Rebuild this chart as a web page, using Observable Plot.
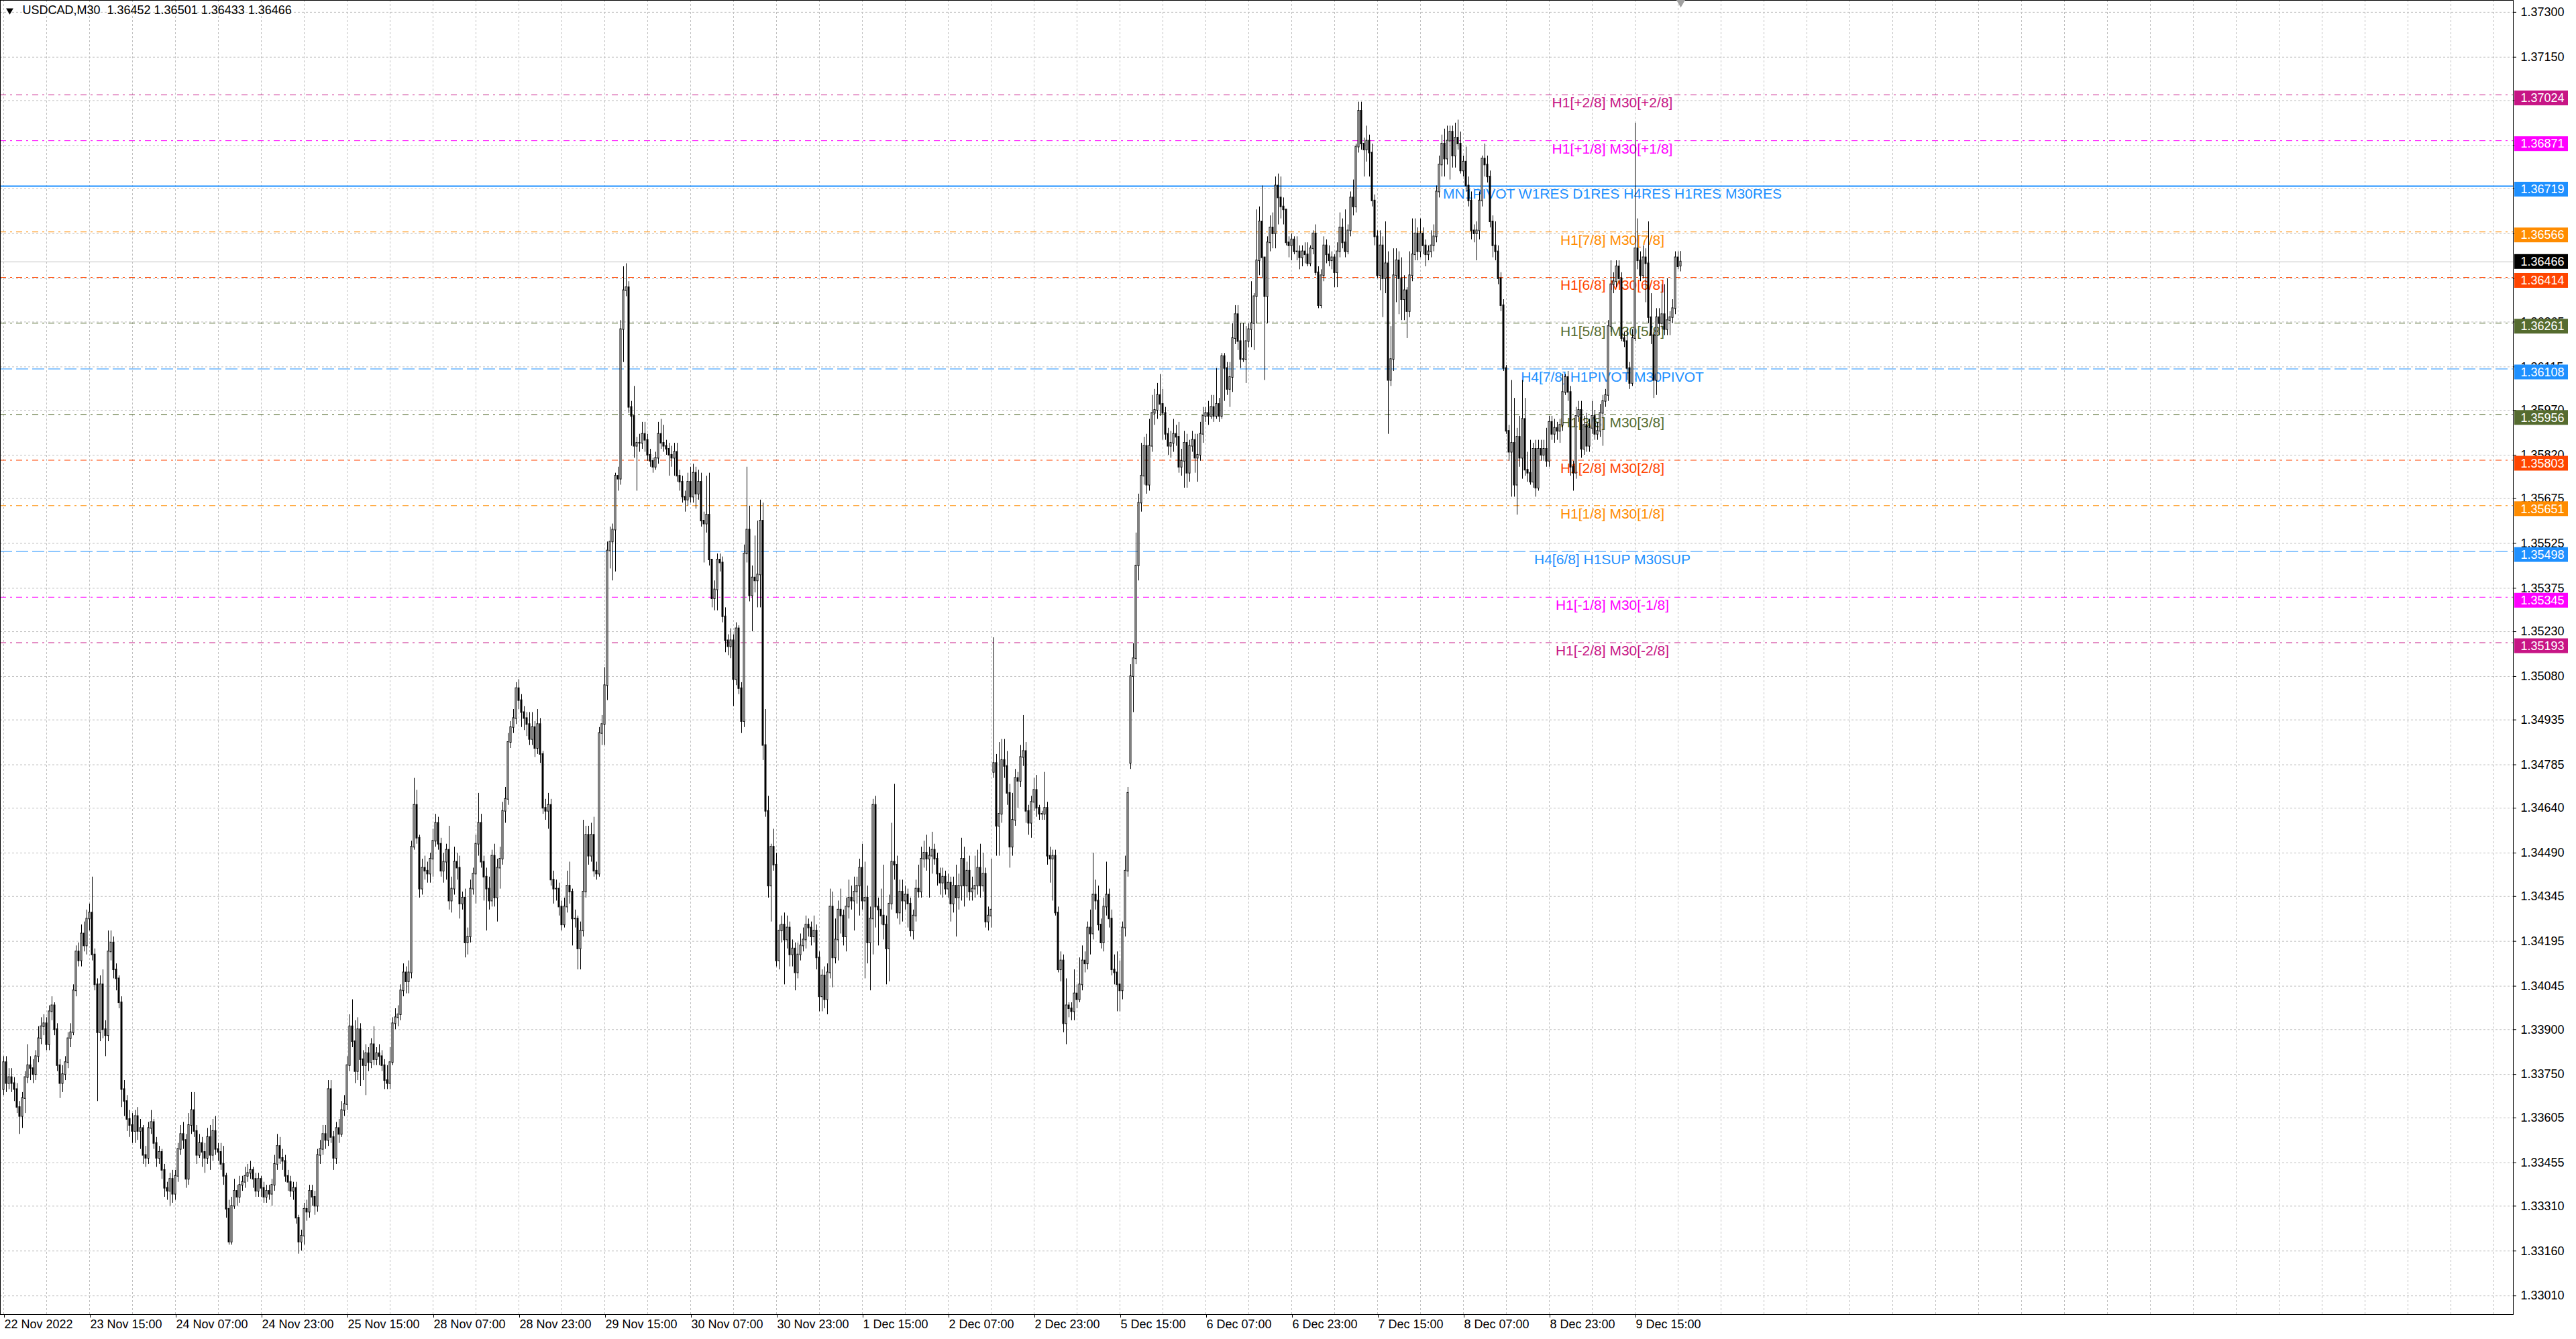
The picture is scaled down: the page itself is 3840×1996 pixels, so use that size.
<!DOCTYPE html>
<html>
<head>
<meta charset="utf-8">
<script src="https://cdn.jsdelivr.net/npm/d3@7"></script>
<script src="https://cdn.jsdelivr.net/npm/@observablehq/plot@0.6"></script>
<style>
html, body { margin: 0; padding: 0; background: #ffffff; overflow: hidden; }
#chart svg { display: block; }
</style>
</head>
<body>
<div id="chart"></div>
<script>
// ---------------- data (USDCAD, M30) ----------------
const symbol = "USDCAD,M30";

const open = [
1.3370,1.3379,1.3372,1.3374,1.3372,1.3370,1.3364,1.3361,1.3367,1.3374,
1.3378,1.3377,1.3375,1.3381,1.3387,1.3391,1.3392,1.3385,1.3396,1.3398,
1.3390,1.3378,1.3372,1.3375,1.3379,1.3387,1.3389,1.3403,1.3416,1.3413,
1.3422,1.3418,1.3427,1.3429,1.3415,1.3405,1.3389,1.3405,1.3390,1.3388,
1.3416,1.3419,1.3410,1.3407,1.3399,1.3370,1.3366,1.3360,1.3358,1.3356,
1.3361,1.3356,1.3357,1.3348,1.3347,1.3357,1.3359,1.3352,1.3347,1.3349,
1.3343,1.3337,1.3336,1.3340,1.3335,1.3341,1.3350,1.3355,1.3353,1.3340,
1.3358,1.3363,1.3356,1.3348,1.3352,1.3349,1.3347,1.3354,1.3348,1.3356,
1.3350,1.3349,1.3345,1.3341,1.3330,1.3319,1.3331,1.3336,1.3334,1.3338,
1.3339,1.3341,1.3342,1.3343,1.3340,1.3336,1.3340,1.3337,1.3334,1.3336,
1.3335,1.3338,1.3345,1.3351,1.3347,1.3346,1.3341,1.3339,1.3336,1.3337,
1.3327,1.3319,1.3321,1.3330,1.3329,1.3336,1.3334,1.3331,1.3348,1.3350,
1.3355,1.3353,1.3370,1.3354,1.3347,1.3357,1.3355,1.3363,1.3365,1.3378,
1.3391,1.3386,1.3376,1.3390,1.3380,1.3378,1.3382,1.3379,1.3385,1.3380,
1.3382,1.3381,1.3378,1.3373,1.3372,1.3379,1.3392,1.3394,1.3395,1.3403,
1.3409,1.3406,1.3409,1.3451,1.3465,1.3454,1.3437,1.3444,1.3443,1.3442,
1.3447,1.3453,1.3459,1.3452,1.3443,1.3446,1.3450,1.3433,1.3437,1.3446,
1.3444,1.3432,1.3434,1.3419,1.3421,1.3437,1.3442,1.3452,1.3459,1.3446,
1.3441,1.3437,1.3433,1.3448,1.3434,1.3444,1.3447,1.3463,1.3467,1.3486,
1.3491,1.3494,1.3504,1.3500,1.3496,1.3494,1.3492,1.3487,1.3491,1.3484,
1.3492,1.3482,1.3464,1.3463,1.3465,1.3440,1.3437,1.3437,1.3431,1.3425,
1.3431,1.3438,1.3436,1.3427,1.3427,1.3417,1.3423,1.3436,1.3455,1.3448,
1.3455,1.3443,1.3442,1.3489,1.3492,1.3505,1.3550,1.3553,1.3557,1.3575,
1.3574,1.3624,1.3637,1.3638,1.3598,1.3595,1.3585,1.3586,1.3586,1.3589,
1.3587,1.3582,1.3580,1.3578,1.3581,1.3589,1.3586,1.3585,1.3584,1.3582,
1.3581,1.3583,1.3575,1.3573,1.3568,1.3567,1.3573,1.3568,1.3576,1.3569,
1.3573,1.3560,1.3559,1.3562,1.3547,1.3534,1.3537,1.3547,1.3546,1.3528,
1.3520,1.3518,1.3520,1.3507,1.3524,1.3504,1.3493,1.3549,1.3557,1.3535,
1.3541,1.3540,1.3542,1.3560,1.3485,1.3463,1.3438,1.3451,1.3445,1.3413,
1.3423,1.3425,1.3420,1.3424,1.3415,1.3417,1.3409,1.3415,1.3418,1.3420,
1.3425,1.3424,1.3421,1.3423,1.3414,1.3401,1.3408,1.3400,1.3409,1.3431,
1.3414,1.3420,1.3430,1.3428,1.3421,1.3431,1.3434,1.3433,1.3436,1.3438,
1.3444,1.3433,1.3434,1.3419,1.3427,1.3465,1.3431,1.3430,1.3428,1.3425,
1.3417,1.3432,1.3446,1.3445,1.3429,1.3436,1.3433,1.3435,1.3432,1.3423,
1.3428,1.3437,1.3436,1.3447,1.3449,1.3447,1.3448,1.3450,1.3447,1.3442,
1.3439,1.3441,1.3437,1.3439,1.3432,1.3438,1.3434,1.3438,1.3447,1.3438,
1.3443,1.3436,1.3437,1.3438,1.3444,1.3438,1.3442,1.3426,1.3428,1.3476,
1.3479,1.3458,1.3462,1.3480,1.3478,1.3469,1.3451,1.3460,1.3474,1.3473,
1.3481,1.3483,1.3463,1.3459,1.3466,1.3470,1.3464,1.3462,1.3462,1.3464,
1.3448,1.3447,1.3448,1.3429,1.3410,1.3413,1.3392,1.3398,1.3397,1.3396,
1.3402,1.3400,1.3405,1.3413,1.3412,1.3424,1.3422,1.3435,1.3433,1.3425,
1.3419,1.3431,1.3435,1.3427,1.3410,1.3409,1.3405,1.3403,1.3424,1.3443,
1.3479,1.3508,1.3514,1.3545,1.3566,1.3575,1.3585,1.3572,1.3585,1.3596,
1.3597,1.3602,1.3599,1.3596,1.3589,1.3585,1.3586,1.3589,1.3588,1.3578,
1.3580,1.3586,1.3576,1.3585,1.3587,1.3581,1.3582,1.3589,1.3595,1.3596,
1.3595,1.3598,1.3595,1.3599,1.3595,1.3615,1.3611,1.3604,1.3608,1.3621,
1.3629,1.3620,1.3614,1.3614,1.3620,1.3624,1.3626,1.3635,1.3647,1.3660,
1.3648,1.3635,1.3653,1.3658,1.3656,1.3672,1.3668,1.3665,1.3664,1.3653,
1.3652,1.3654,1.3650,1.3650,1.3648,1.3650,1.3649,1.3646,1.3651,1.3656,
1.3643,1.3632,1.3642,1.3652,1.3649,1.3647,1.3648,1.3643,1.3650,1.3658,
1.3653,1.3650,1.3657,1.3668,1.3665,1.3685,1.3697,1.3686,1.3684,1.3687,
1.3683,1.3667,1.3655,1.3642,1.3652,1.3641,1.3646,1.3607,1.3614,1.3642,
1.3647,1.3641,1.3634,1.3637,1.3630,1.3642,1.3649,1.3656,1.3650,1.3656,
1.3652,1.3649,1.3650,1.3652,1.3655,1.3670,1.3679,1.3686,1.3681,1.3687,
1.3690,1.3682,1.3688,1.3686,1.3677,1.3680,1.3672,1.3667,1.3657,1.3656,
1.3657,1.3667,1.3681,1.3679,1.3675,1.3660,1.3652,1.3650,1.3641,1.3632,
1.3611,1.3590,1.3583,1.3586,1.3572,1.3588,1.3581,1.3594,1.3577,1.3576,
1.3573,1.3584,1.3571,1.3584,1.3582,1.3584,1.3580,1.3593,1.3589,1.3591,
1.3590,1.3592,1.3603,1.3608,1.3603,1.3578,1.3576,1.3595,1.3597,1.3584,
1.3592,1.3585,1.3591,1.3595,1.3589,1.3590,1.3596,1.3600,1.3602,1.3625,
1.3639,1.3640,1.3645,1.3641,1.3621,1.3620,1.3611,1.3606,1.3621,1.3651,
1.3647,1.3642,1.3648,1.3646,1.3628,1.3622,1.3607,1.3628,1.3626,1.3629,
1.3624,1.3627,1.3628,1.3631,1.3648,1.36452
];

const high = [
1.3381,1.3381,1.3377,1.3377,1.3374,1.3372,1.3366,1.3369,1.3376,1.3385,
1.3381,1.3380,1.3383,1.3391,1.3394,1.3395,1.3394,1.3398,1.3401,1.3399,
1.3392,1.3380,1.3378,1.3381,1.3389,1.3392,1.3405,1.3418,1.3419,1.3425,
1.3426,1.3430,1.3432,1.3441,1.3417,1.3407,1.3408,1.3410,1.3393,1.3423,
1.3423,1.3421,1.3412,1.3408,1.3401,1.3373,1.3368,1.3363,1.3362,1.3363,
1.3364,1.3360,1.3358,1.3351,1.3359,1.3363,1.3360,1.3354,1.3351,1.3350,
1.3345,1.3339,1.3342,1.3343,1.3343,1.3352,1.3358,1.3359,1.3355,1.3362,
1.3369,1.3369,1.3358,1.3355,1.3354,1.3352,1.3357,1.3358,1.3360,1.3361,
1.3352,1.3352,1.3351,1.3342,1.3333,1.3334,1.3340,1.3338,1.3341,1.3341,
1.3344,1.3345,1.3346,1.3344,1.3342,1.3342,1.3341,1.3339,1.3338,1.3338,
1.3340,1.3348,1.3355,1.3354,1.3350,1.3348,1.3343,1.3341,1.3339,1.3339,
1.3328,1.3323,1.3332,1.3333,1.3338,1.3338,1.3336,1.3350,1.3353,1.3358,
1.3358,1.3373,1.3373,1.3356,1.3359,1.3360,1.3366,1.3368,1.3381,1.3395,
1.3400,1.3393,1.3394,1.3392,1.3383,1.3385,1.3384,1.3387,1.3391,1.3384,
1.3385,1.3383,1.3380,1.3378,1.3384,1.3394,1.3397,1.3398,1.3405,1.3412,
1.3411,1.3413,1.3453,1.3474,1.3470,1.3455,1.3447,1.3448,1.3446,1.3449,
1.3457,1.3462,1.3461,1.3454,1.3449,1.3452,1.3458,1.3441,1.3451,1.3449,
1.3448,1.3436,1.3437,1.3424,1.3440,1.3444,1.3455,1.3469,1.3462,1.3448,
1.3444,1.3441,1.3450,1.3452,1.3447,1.3451,1.3466,1.3471,1.3489,1.3493,
1.3497,1.3506,1.3507,1.3502,1.3498,1.3496,1.3496,1.3496,1.3493,1.3497,
1.3494,1.3483,1.3467,1.3469,1.3467,1.3443,1.3440,1.3439,1.3433,1.3434,
1.3443,1.3446,1.3437,1.3430,1.3428,1.3426,1.3460,1.3458,1.3458,1.3459,
1.3461,1.3446,1.3491,1.3495,1.3511,1.3553,1.3558,1.3559,1.3576,1.3578,
1.3627,1.3645,1.3646,1.3640,1.3600,1.3605,1.3588,1.3589,1.3593,1.3593,
1.3589,1.3584,1.3581,1.3583,1.3593,1.3594,1.3592,1.3587,1.3586,1.3585,
1.3586,1.3586,1.3577,1.3575,1.3570,1.3576,1.3578,1.3579,1.3578,1.3577,
1.3576,1.3563,1.3575,1.3576,1.3547,1.3540,1.3549,1.3549,1.3548,1.3531,
1.3522,1.3524,1.3522,1.3526,1.3525,1.3506,1.3552,1.3578,1.3565,1.3545,
1.3555,1.3560,1.3567,1.3566,1.3497,1.3468,1.3452,1.3457,1.3449,1.3425,
1.3428,1.3429,1.3428,1.3426,1.3420,1.3419,1.3419,1.3422,1.3424,1.3428,
1.3427,1.3426,1.3428,1.3425,1.3416,1.3410,1.3411,1.3412,1.3437,1.3436,
1.3427,1.3433,1.3437,1.3430,1.3434,1.3440,1.3438,1.3441,1.3441,1.3447,
1.3452,1.3446,1.3438,1.3431,1.3467,1.3468,1.3434,1.3437,1.3445,1.3428,
1.3435,1.3459,1.3472,1.3448,1.3440,1.3440,1.3438,1.3437,1.3434,1.3430,
1.3440,1.3445,1.3451,1.3453,1.3455,1.3451,1.3456,1.3452,1.3449,1.3444,
1.3444,1.3443,1.3442,1.3441,1.3441,1.3445,1.3442,1.3454,1.3451,1.3446,
1.3448,1.3441,1.3448,1.3450,1.3452,1.3449,1.3444,1.3431,1.3447,1.3521,
1.3482,1.3486,1.3487,1.3487,1.3483,1.3472,1.3469,1.3477,1.3476,1.3485,
1.3495,1.3486,1.3465,1.3468,1.3474,1.3475,1.3465,1.3463,1.3476,1.3466,
1.3451,1.3450,1.3450,1.3431,1.3416,1.3415,1.3407,1.3399,1.3399,1.3410,
1.3405,1.3414,1.3418,1.3416,1.3426,1.3430,1.3449,1.3440,1.3438,1.3427,
1.3434,1.3446,1.3437,1.3430,1.3415,1.3416,1.3413,1.3426,1.3448,1.3471,
1.3512,1.3519,1.3556,1.3569,1.3586,1.3588,1.3589,1.3594,1.3602,1.3604,
1.3606,1.3609,1.3604,1.3598,1.3591,1.3590,1.3594,1.3592,1.3593,1.3584,
1.3590,1.3589,1.3587,1.3590,1.3589,1.3589,1.3593,1.3598,1.3598,1.3600,
1.3602,1.3602,1.3611,1.3601,1.3616,1.3616,1.3613,1.3613,1.3626,1.3632,
1.3632,1.3626,1.3626,1.3625,1.3626,1.3640,1.3636,1.3664,1.3665,1.3672,
1.3648,1.3655,1.3662,1.3663,1.3675,1.3676,1.3675,1.3668,1.3664,1.3655,
1.3656,1.3655,1.3655,1.3652,1.3652,1.3653,1.3653,1.3652,1.3657,1.3659,
1.3645,1.3644,1.3655,1.3654,1.3652,1.3650,1.3649,1.3653,1.3663,1.3661,
1.3664,1.3659,1.3670,1.3674,1.3686,1.3700,1.3700,1.3688,1.3692,1.3689,
1.3686,1.3669,1.3657,1.3657,1.3655,1.3660,1.3650,1.3625,1.3651,1.3651,
1.3650,1.3648,1.3642,1.3638,1.3650,1.3661,1.3661,1.3658,1.3661,1.3658,
1.3654,1.3652,1.3657,1.3659,1.3672,1.3682,1.3689,1.3691,1.3692,1.3692,
1.3692,1.3693,1.3694,1.3690,1.3682,1.3685,1.3675,1.3670,1.3659,1.3660,
1.3670,1.3682,1.3686,1.3682,1.3677,1.3662,1.3660,1.3652,1.3643,1.3634,
1.3612,1.3592,1.3607,1.3601,1.3591,1.3595,1.3607,1.3601,1.3583,1.3587,
1.3586,1.3587,1.3587,1.3587,1.3587,1.3591,1.3595,1.3595,1.3594,1.3593,
1.3594,1.3609,1.3609,1.3610,1.3605,1.3580,1.3598,1.3600,1.3600,1.3595,
1.3596,1.3594,1.3600,1.3597,1.3593,1.3599,1.3602,1.3604,1.3627,1.3647,
1.3643,1.3647,1.3647,1.3643,1.3623,1.3624,1.3613,1.3624,1.3693,1.3661,
1.3650,1.3652,1.3651,1.3660,1.3636,1.3624,1.3631,1.3631,1.3639,1.3639,
1.3641,1.3630,1.3634,1.3650,1.3650,1.36501
];

const low = [
1.3368,1.3369,1.3370,1.3369,1.3366,1.3362,1.3355,1.3357,1.3362,1.3372,
1.3373,1.3372,1.3373,1.3379,1.3385,1.3388,1.3383,1.3383,1.3393,1.3388,
1.3376,1.3367,1.3369,1.3373,1.3377,1.3384,1.3388,1.3401,1.3411,1.3411,
1.3416,1.3415,1.3423,1.3413,1.3403,1.3366,1.3386,1.3387,1.3381,1.3386,
1.3413,1.3407,1.3403,1.3397,1.3364,1.3361,1.3356,1.3354,1.3352,1.3352,
1.3353,1.3350,1.3345,1.3344,1.3345,1.3355,1.3350,1.3344,1.3345,1.3340,
1.3334,1.3333,1.3331,1.3332,1.3333,1.3339,1.3348,1.3350,1.3337,1.3338,
1.3355,1.3354,1.3345,1.3347,1.3344,1.3342,1.3345,1.3343,1.3346,1.3348,
1.3346,1.3343,1.3338,1.3327,1.3318,1.3318,1.3330,1.3331,1.3332,1.3336,
1.3337,1.3339,1.3340,1.3337,1.3334,1.3334,1.3334,1.3332,1.3332,1.3333,
1.3331,1.3336,1.3343,1.3345,1.3343,1.3339,1.3336,1.3334,1.3333,1.3325,
1.3315,1.3316,1.3318,1.3326,1.3327,1.3331,1.3328,1.3329,1.3345,1.3348,
1.3350,1.3351,1.3352,1.3343,1.3345,1.3352,1.3354,1.3361,1.3363,1.3376,
1.3384,1.3372,1.3373,1.3371,1.3373,1.3368,1.3376,1.3377,1.3378,1.3378,
1.3378,1.3376,1.3370,1.3370,1.3370,1.3378,1.3390,1.3391,1.3393,1.3401,
1.3402,1.3402,1.3407,1.3450,1.3452,1.3434,1.3435,1.3440,1.3439,1.3439,
1.3441,1.3451,1.3450,1.3441,1.3439,1.3440,1.3430,1.3429,1.3435,1.3440,
1.3427,1.3430,1.3414,1.3415,1.3419,1.3435,1.3432,1.3448,1.3444,1.3433,
1.3423,1.3430,1.3431,1.3431,1.3426,1.3437,1.3445,1.3459,1.3465,1.3484,
1.3489,1.3492,1.3497,1.3491,1.3490,1.3488,1.3485,1.3485,1.3481,1.3482,
1.3479,1.3462,1.3460,1.3457,1.3438,1.3432,1.3433,1.3428,1.3423,1.3424,
1.3429,1.3432,1.3418,1.3424,1.3410,1.3410,1.3421,1.3434,1.3445,1.3446,
1.3441,1.3440,1.3441,1.3485,1.3485,1.3500,1.3544,1.3540,1.3543,1.3570,
1.3572,1.3613,1.3635,1.3596,1.3585,1.3581,1.3570,1.3583,1.3584,1.3583,
1.3580,1.3578,1.3576,1.3577,1.3579,1.3584,1.3583,1.3582,1.3575,1.3578,
1.3575,1.3573,1.3570,1.3566,1.3563,1.3565,1.3566,1.3566,1.3564,1.3567,
1.3558,1.3546,1.3556,1.3545,1.3531,1.3530,1.3530,1.3543,1.3526,1.3516,
1.3515,1.3514,1.3498,1.3505,1.3502,1.3489,1.3491,1.3546,1.3533,1.3523,
1.3536,1.3531,1.3531,1.3480,1.3461,1.3434,1.3426,1.3443,1.3411,1.3410,
1.3419,1.3405,1.3417,1.3411,1.3411,1.3403,1.3407,1.3413,1.3416,1.3417,
1.3421,1.3418,1.3419,1.3410,1.3396,1.3396,1.3397,1.3395,1.3407,1.3404,
1.3412,1.3413,1.3422,1.3418,1.3416,1.3427,1.3430,1.3423,1.3432,1.3428,
1.3430,1.3407,1.3412,1.3403,1.3415,1.3424,1.3418,1.3425,1.3420,1.3405,
1.3406,1.3430,1.3440,1.3427,1.3425,1.3426,1.3430,1.3424,1.3421,1.3420,
1.3426,1.3434,1.3434,1.3444,1.3443,1.3434,1.3442,1.3445,1.3438,1.3435,
1.3434,1.3435,1.3434,1.3426,1.3429,1.3421,1.3430,1.3433,1.3431,1.3434,
1.3433,1.3433,1.3434,1.3435,1.3434,1.3436,1.3424,1.3423,1.3424,1.3474,
1.3448,1.3448,1.3459,1.3474,1.3465,1.3444,1.3448,1.3458,1.3464,1.3471,
1.3478,1.3459,1.3455,1.3454,1.3463,1.3461,1.3460,1.3460,1.3460,1.3445,
1.3439,1.3433,1.3428,1.3409,1.3406,1.3389,1.3385,1.3394,1.3393,1.3393,
1.3397,1.3399,1.3403,1.3409,1.3410,1.3415,1.3420,1.3430,1.3423,1.3417,
1.3416,1.3428,1.3424,1.3408,1.3405,1.3396,1.3396,1.3400,1.3421,1.3441,
1.3477,1.3496,1.3512,1.3540,1.3563,1.3572,1.3569,1.3570,1.3583,1.3592,
1.3594,1.3595,1.3587,1.3587,1.3582,1.3581,1.3583,1.3585,1.3576,1.3575,
1.3571,1.3571,1.3573,1.3583,1.3576,1.3573,1.3580,1.3586,1.3593,1.3592,
1.3594,1.3593,1.3594,1.3593,1.3594,1.3600,1.3602,1.3598,1.3603,1.3619,
1.3617,1.3611,1.3613,1.3606,1.3618,1.3618,1.3617,1.3626,1.3642,1.3641,
1.3607,1.3626,1.3650,1.3651,1.3651,1.3659,1.3661,1.3659,1.3652,1.3648,
1.3647,1.3649,1.3647,1.3644,1.3645,1.3646,1.3645,1.3645,1.3649,1.3642,
1.3631,1.3631,1.3640,1.3646,1.3645,1.3644,1.3638,1.3638,1.3648,1.3651,
1.3648,1.3649,1.3655,1.3662,1.3663,1.3683,1.3684,1.3675,1.3680,1.3675,
1.3665,1.3652,1.3641,1.3637,1.3628,1.3636,1.3589,1.3605,1.3610,1.3633,
1.3629,1.3627,1.3627,1.3621,1.3628,1.3640,1.3647,1.3647,1.3648,1.3649,
1.3645,1.3647,1.3648,1.3650,1.3653,1.3668,1.3675,1.3675,1.3679,1.3674,
1.3678,1.3678,1.3684,1.3676,1.3675,1.3670,1.3665,1.3654,1.3653,1.3647,
1.3654,1.3665,1.3675,1.3673,1.3658,1.3648,1.3647,1.3639,1.3630,1.3610,
1.3589,1.3580,1.3568,1.3568,1.3562,1.3578,1.3574,1.3575,1.3573,1.3572,
1.3571,1.3568,1.3570,1.3580,1.3580,1.3578,1.3578,1.3587,1.3586,1.3587,
1.3586,1.3590,1.3602,1.3600,1.3575,1.3570,1.3574,1.3593,1.3581,1.3582,
1.3583,1.3583,1.3589,1.3587,1.3587,1.3588,1.3585,1.3598,1.3600,1.3623,
1.3636,1.3638,1.3639,1.3620,1.3618,1.3607,1.3604,1.3605,1.3620,1.3644,
1.3640,1.3641,1.3633,1.3626,1.3619,1.3601,1.3602,1.3622,1.3624,1.3622,
1.3622,1.3622,1.3626,1.3629,1.3644,1.36433
];

const close = [
1.3379,1.3372,1.3374,1.3372,1.3370,1.3364,1.3361,1.3367,1.3374,1.3378,
1.3377,1.3375,1.3381,1.3387,1.3391,1.3392,1.3385,1.3396,1.3398,1.3390,
1.3378,1.3372,1.3375,1.3379,1.3387,1.3389,1.3403,1.3416,1.3413,1.3422,
1.3418,1.3427,1.3429,1.3415,1.3405,1.3389,1.3405,1.3390,1.3388,1.3416,
1.3419,1.3410,1.3407,1.3399,1.3370,1.3366,1.3360,1.3358,1.3356,1.3361,
1.3356,1.3357,1.3348,1.3347,1.3357,1.3359,1.3352,1.3347,1.3349,1.3343,
1.3337,1.3336,1.3340,1.3335,1.3341,1.3350,1.3355,1.3353,1.3340,1.3358,
1.3363,1.3356,1.3348,1.3352,1.3349,1.3347,1.3354,1.3348,1.3356,1.3350,
1.3349,1.3345,1.3341,1.3330,1.3319,1.3331,1.3336,1.3334,1.3338,1.3339,
1.3341,1.3342,1.3343,1.3340,1.3336,1.3340,1.3337,1.3334,1.3336,1.3335,
1.3338,1.3345,1.3351,1.3347,1.3346,1.3341,1.3339,1.3336,1.3337,1.3327,
1.3319,1.3321,1.3330,1.3329,1.3336,1.3334,1.3331,1.3348,1.3350,1.3355,
1.3353,1.3370,1.3354,1.3347,1.3357,1.3355,1.3363,1.3365,1.3378,1.3391,
1.3386,1.3376,1.3390,1.3380,1.3378,1.3382,1.3379,1.3385,1.3380,1.3382,
1.3381,1.3378,1.3373,1.3372,1.3379,1.3392,1.3394,1.3395,1.3403,1.3409,
1.3406,1.3409,1.3451,1.3465,1.3454,1.3437,1.3444,1.3443,1.3442,1.3447,
1.3453,1.3459,1.3452,1.3443,1.3446,1.3450,1.3433,1.3437,1.3446,1.3444,
1.3432,1.3434,1.3419,1.3421,1.3437,1.3442,1.3452,1.3459,1.3446,1.3441,
1.3437,1.3433,1.3448,1.3434,1.3444,1.3447,1.3463,1.3467,1.3486,1.3491,
1.3494,1.3504,1.3500,1.3496,1.3494,1.3492,1.3487,1.3491,1.3484,1.3492,
1.3482,1.3464,1.3463,1.3465,1.3440,1.3437,1.3437,1.3431,1.3425,1.3431,
1.3438,1.3436,1.3427,1.3427,1.3417,1.3423,1.3436,1.3455,1.3448,1.3455,
1.3443,1.3442,1.3489,1.3492,1.3505,1.3550,1.3553,1.3557,1.3575,1.3574,
1.3624,1.3637,1.3638,1.3598,1.3595,1.3585,1.3586,1.3586,1.3589,1.3587,
1.3582,1.3580,1.3578,1.3581,1.3589,1.3586,1.3585,1.3584,1.3582,1.3581,
1.3583,1.3575,1.3573,1.3568,1.3567,1.3573,1.3568,1.3576,1.3569,1.3573,
1.3560,1.3559,1.3562,1.3547,1.3534,1.3537,1.3547,1.3546,1.3528,1.3520,
1.3518,1.3520,1.3507,1.3524,1.3504,1.3493,1.3549,1.3557,1.3535,1.3541,
1.3540,1.3542,1.3560,1.3485,1.3463,1.3438,1.3451,1.3445,1.3413,1.3423,
1.3425,1.3420,1.3424,1.3415,1.3417,1.3409,1.3415,1.3418,1.3420,1.3425,
1.3424,1.3421,1.3423,1.3414,1.3401,1.3408,1.3400,1.3409,1.3431,1.3414,
1.3420,1.3430,1.3428,1.3421,1.3431,1.3434,1.3433,1.3436,1.3438,1.3444,
1.3433,1.3434,1.3419,1.3427,1.3465,1.3431,1.3430,1.3428,1.3425,1.3417,
1.3432,1.3446,1.3445,1.3429,1.3436,1.3433,1.3435,1.3432,1.3423,1.3428,
1.3437,1.3436,1.3447,1.3449,1.3447,1.3448,1.3450,1.3447,1.3442,1.3439,
1.3441,1.3437,1.3439,1.3432,1.3438,1.3434,1.3438,1.3447,1.3438,1.3443,
1.3436,1.3437,1.3438,1.3444,1.3438,1.3442,1.3426,1.3428,1.3430,1.3479,
1.3458,1.3462,1.3480,1.3478,1.3469,1.3451,1.3460,1.3474,1.3473,1.3481,
1.3483,1.3463,1.3459,1.3466,1.3470,1.3464,1.3462,1.3462,1.3464,1.3448,
1.3447,1.3448,1.3429,1.3410,1.3413,1.3392,1.3398,1.3397,1.3396,1.3402,
1.3400,1.3405,1.3413,1.3412,1.3424,1.3422,1.3435,1.3433,1.3425,1.3419,
1.3431,1.3435,1.3427,1.3410,1.3409,1.3405,1.3403,1.3424,1.3443,1.3469,
1.3508,1.3514,1.3545,1.3566,1.3575,1.3585,1.3572,1.3585,1.3596,1.3597,
1.3602,1.3599,1.3596,1.3589,1.3585,1.3586,1.3589,1.3588,1.3578,1.3580,
1.3586,1.3576,1.3585,1.3587,1.3581,1.3582,1.3589,1.3595,1.3596,1.3595,
1.3598,1.3595,1.3599,1.3595,1.3615,1.3611,1.3604,1.3608,1.3621,1.3629,
1.3620,1.3614,1.3614,1.3620,1.3624,1.3626,1.3635,1.3647,1.3660,1.3648,
1.3635,1.3653,1.3658,1.3656,1.3672,1.3668,1.3665,1.3664,1.3653,1.3652,
1.3654,1.3650,1.3650,1.3648,1.3650,1.3649,1.3646,1.3651,1.3656,1.3643,
1.3632,1.3642,1.3652,1.3649,1.3647,1.3648,1.3643,1.3650,1.3658,1.3653,
1.3650,1.3657,1.3668,1.3665,1.3685,1.3697,1.3686,1.3684,1.3687,1.3683,
1.3667,1.3655,1.3642,1.3652,1.3641,1.3646,1.3607,1.3614,1.3642,1.3647,
1.3641,1.3634,1.3637,1.3630,1.3642,1.3649,1.3656,1.3650,1.3656,1.3652,
1.3649,1.3650,1.3652,1.3655,1.3670,1.3679,1.3686,1.3681,1.3687,1.3690,
1.3682,1.3688,1.3686,1.3677,1.3680,1.3672,1.3667,1.3657,1.3656,1.3657,
1.3667,1.3681,1.3679,1.3675,1.3660,1.3652,1.3650,1.3641,1.3632,1.3611,
1.3590,1.3583,1.3586,1.3572,1.3588,1.3581,1.3594,1.3577,1.3576,1.3573,
1.3584,1.3571,1.3584,1.3582,1.3584,1.3580,1.3593,1.3589,1.3591,1.3590,
1.3592,1.3603,1.3608,1.3603,1.3578,1.3576,1.3595,1.3597,1.3584,1.3592,
1.3585,1.3591,1.3595,1.3589,1.3590,1.3596,1.3600,1.3602,1.3625,1.3639,
1.3640,1.3645,1.3641,1.3621,1.3620,1.3611,1.3606,1.3621,1.3651,1.3647,
1.3642,1.3648,1.3646,1.3628,1.3622,1.3607,1.3628,1.3626,1.3629,1.3624,
1.3627,1.3628,1.3631,1.3648,1.3645,1.36466
];

// time-axis labels (one every 32 bars, as on the reference)
const timeLabels = ["22 Nov 2022","23 Nov 15:00","24 Nov 07:00","24 Nov 23:00","25 Nov 15:00",
  "28 Nov 07:00","28 Nov 23:00","29 Nov 15:00","30 Nov 07:00","30 Nov 23:00","1 Dec 15:00",
  "2 Dec 07:00","2 Dec 23:00","5 Dec 15:00","6 Dec 07:00","6 Dec 23:00","7 Dec 15:00",
  "8 Dec 07:00","8 Dec 23:00","9 Dec 15:00"];

// price-axis tick labels
const priceTicks = [1.37300,1.37150,1.37005,1.36855,1.36710,1.36560,1.36410,1.36265,1.36115,
  1.35970,1.35820,1.35675,1.35525,1.35375,1.35230,1.35080,1.34935,1.34785,1.34640,1.34490,
  1.34345,1.34195,1.34045,1.33900,1.33750,1.33605,1.33455,1.33310,1.33160,1.33010];

// pivot / Murrey levels
const levelPrices = [1.37024,1.36871,1.36719,1.36566,1.36414,1.36261,1.36108,1.35956,1.35803,1.35651,1.35498,1.35345,1.35193];
const levelNames = ["H1[+2/8] M30[+2/8]","H1[+1/8] M30[+1/8]","MN1PIVOT W1RES D1RES H4RES H1RES M30RES",
  "H1[7/8] M30[7/8]","H1[6/8] M30[6/8]","H1[5/8] M30[5/8]","H4[7/8] H1PIVOT M30PIVOT",
  "H1[3/8] M30[3/8]","H1[2/8] M30[2/8]","H1[1/8] M30[1/8]","H4[6/8] H1SUP M30SUP",
  "H1[-1/8] M30[-1/8]","H1[-2/8] M30[-2/8]"];
const levelColors = ["#C71585","#FF00FF","#1E90FF","#FF8C00","#FF4500","#556B2F","#1E90FF",
  "#556B2F","#FF4500","#FF8C00","#1E90FF","#FF00FF","#C71585"];
const levelStyles = ["dashdot","dashdot","solid","dashdot","dashdot","dashdot","dash",
  "dashdot","dashdot","dashdot","dash","dashdot","dashdot"];

// ---------------- layout ----------------
const W = 3840, H = 1996;
const mRight = 94, mBottom = 37;
const plotW = W - mRight, plotH = H - mBottom;
const barPx = 4, firstBarPx = 5;          // MT4 zoom: 4 px per bar
const pxPerPrice = 44600, topPrice = 1.37340;
const levelTextBar = 599.5;

const n = close.length - 1;
const bars = close.map((c, i) => ({i, o: open[i], h: high[i], l: low[i], c}));
const levels = levelPrices.map((p, k) => ({price: p, name: levelNames[k], color: levelColors[k], style: levelStyles[k]}));
const lastBox = [{price: close[n], color: "#000000"}];
const labelBars = timeLabels.map((_, k) => k * 32);
const labelByBar = new Map(labelBars.map((b, k) => [b, timeLabels[k]]));
const gridBars = d3.range(0, (plotW - firstBarPx) / barPx, 16);
const header = `${symbol}  ${open[n].toFixed(5)} ${high[n].toFixed(5)} ${low[n].toFixed(5)} ${close[n].toFixed(5)}`;

const font = "'Liberation Sans', Arial, sans-serif";

const chart = Plot.plot({
  width: W, height: H,
  marginLeft: 0, marginRight: mRight, marginTop: 0, marginBottom: mBottom,
  style: {fontFamily: font, fontSize: "18px", background: "#ffffff", color: "#000000", overflow: "visible"},
  x: {type: "linear", domain: [-firstBarPx / barPx, (plotW - firstBarPx) / barPx]},
  y: {type: "linear", domain: [topPrice - plotH / pxPerPrice, topPrice]},
  color: {type: "identity"},
  marks: [
    Plot.gridY(priceTicks, {stroke: "#c0c0c0", strokeOpacity: 1, strokeDasharray: "3,3"}),
    Plot.gridX(gridBars, {stroke: "#c0c0c0", strokeOpacity: 1, strokeDasharray: "3,3"}),
    Plot.ruleY(levels.filter(d => d.style === "dashdot"), {y: "price", stroke: "color", strokeDasharray: "9,6,3,6"}),
    Plot.ruleY(levels.filter(d => d.style === "dash"), {y: "price", stroke: "color", strokeDasharray: "18,6"}),
    Plot.ruleY(levels.filter(d => d.style === "solid"), {y: "price", stroke: "color", strokeWidth: 2}),
    Plot.ruleY([close[n]], {stroke: "#c0c0c0"}),
    Plot.text(levels, {x: () => levelTextBar, y: "price", text: "name", fill: "color", fontSize: 21, lineAnchor: "top", dy: 4}),
    Plot.ruleX(bars, {x: "i", y1: "l", y2: "h", stroke: "#000000"}),
    Plot.rect(bars, {x1: d => d.i - 0.25, x2: d => d.i + 0.25, y1: "o", y2: "c",
      fill: d => d.c >= d.o ? "#ffffff" : "#000000", stroke: "#000000", insetTop: -0.5, insetBottom: -0.5}),
    Plot.frame({stroke: "#000000"}),
    Plot.axisY(priceTicks, {anchor: "right", tickSize: 4, tickPadding: 7, tickFormat: d => d.toFixed(5), fontSize: 18, label: null}),
    Plot.axisX(labelBars, {anchor: "bottom", tickSize: 5, tickPadding: 3, tickFormat: d => labelByBar.get(d), textAnchor: "start", dx: 1, fontSize: 18, label: null}),
    // level price tags (drawn slightly below their line, as MT4 does)
    Plot.rect(levels, {y1: "price", y2: "price", fill: "color", insetLeft: plotW + 2, insetRight: -82, insetTop: -6, insetBottom: -16}),
    Plot.text(levels, {y: "price", text: d => d.price.toFixed(5), frameAnchor: "right", dx: 11, dy: 5, textAnchor: "start", fill: "#ffffff", fontSize: 18}),
    // current bid tag
    Plot.rect(lastBox, {y1: "price", y2: "price", fill: "color", insetLeft: plotW + 2, insetRight: -82, insetTop: -11, insetBottom: -11}),
    Plot.text(lastBox, {y: "price", text: d => d.price.toFixed(5), frameAnchor: "right", dx: 11, textAnchor: "start", fill: "#ffffff", fontSize: 18}),
    Plot.dot([n], {x: d => d, frameAnchor: "top", symbol: "triangle", r: 5, rotate: 180, fill: "#a0a0a0", stroke: null, dy: 3}),
    Plot.dot([0], {frameAnchor: "top-left", dx: 14, dy: 15, symbol: "triangle", r: 4, rotate: 180, fill: "#000000", stroke: null}),
    Plot.text([header], {frameAnchor: "top-left", dx: 33, dy: 8, lineAnchor: "top", textAnchor: "start", fill: "#000000", fontSize: 18})
  ]
});
document.getElementById("chart").appendChild(chart);
</script>
</body>
</html>
